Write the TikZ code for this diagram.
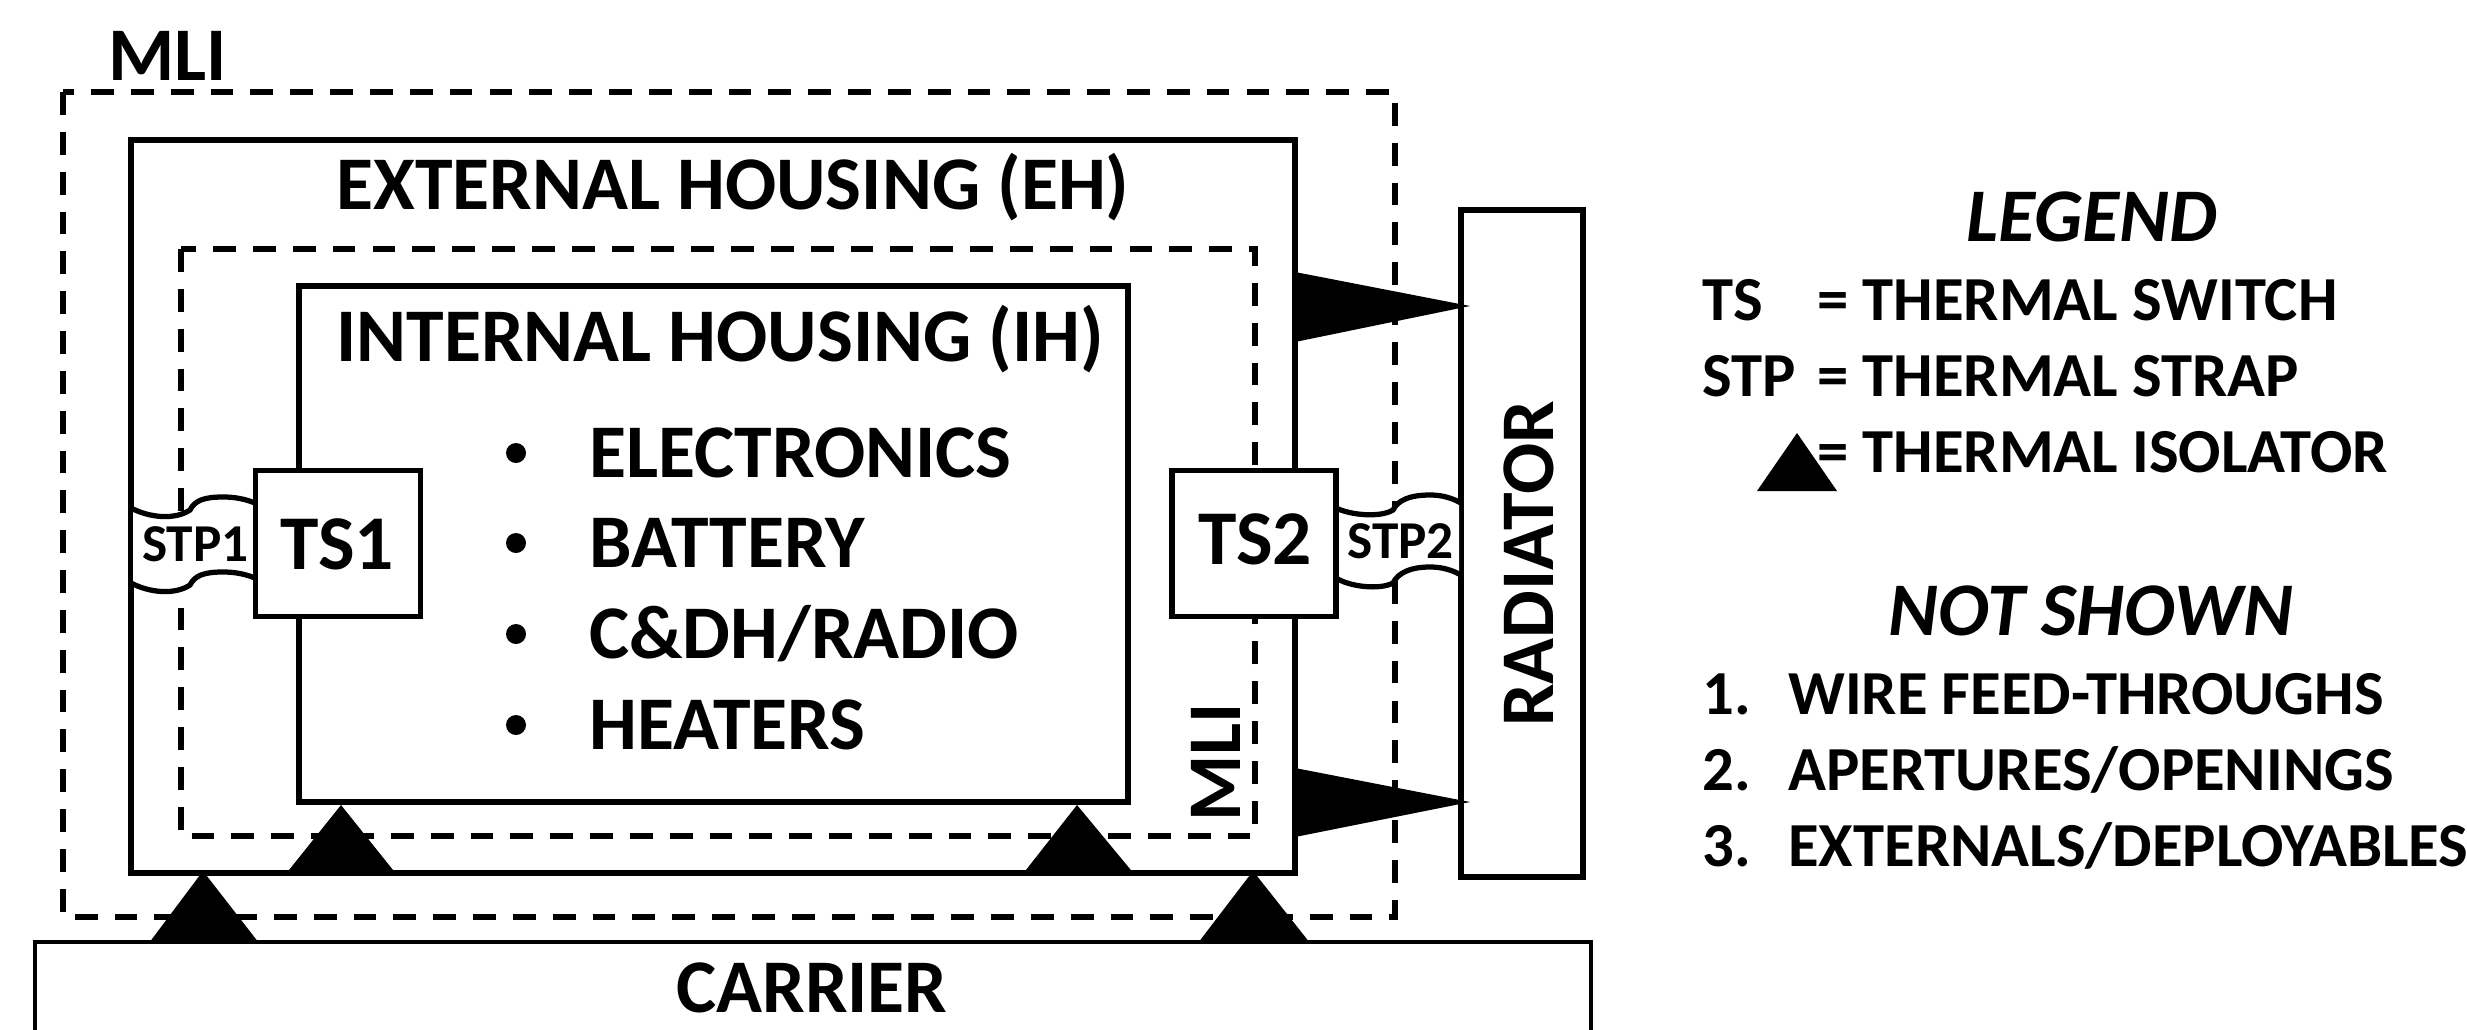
\documentclass[tikz,border=0pt]{standalone}
\usepackage{fontspec}
\setmainfont{Carlito}
\tikzset{x=0.0254cm,y=-0.0254cm,
 box/.style={draw=black,line width=4pt,fill=white,inner sep=0pt},
 dbox/.style={draw=black,line width=4pt,dash pattern=on 16.5pt off 12.3pt},
 strap/.style={draw=black,line width=3.8pt},
 lab/.style={font=\bfseries,inner sep=0pt,anchor=base west},
 big/.style={lab,font=\fontsize{54.8}{60}\selectfont\bfseries},
 small/.style={lab,font=\fontsize{45.3}{50}\selectfont\bfseries},
 stp/.style={lab,font=\fontsize{38.5}{40}\selectfont\bfseries},
 ital/.style={lab,font=\fontsize{54.8}{60}\selectfont\bfseries\itshape},
 iso/.style={fill=black,draw=none}}
\begin{document}
\begin{tikzpicture}
\useasboundingbox (0,0) rectangle (2467,1029);
\fill[white] (0,0) rectangle (2467,1029);
\draw[dbox] (63,92) rectangle (1395,917);
\draw[box,fill=none] (131,140) rectangle (1295,873);
\draw[dbox] (181,249) rectangle (1255,836);
\draw[box] (299,286) rectangle (1128,802);
\draw[box] (1461,210) rectangle (1583,877);
\draw[box,line width=3pt] (35,942) rectangle (1591,1040);
\fill[iso] (1295,272)--(1470,306)--(1295,342)--cycle;
\fill[iso] (1295,768)--(1470,802)--(1295,837)--cycle;
\fill[iso] (285,875)--(341,805)--(397,875)--cycle;
\fill[iso] (1022,875)--(1077,805)--(1135,875)--cycle;
\fill[iso] (149,943)--(203,871)--(259,943)--cycle;
\fill[iso] (1198,943)--(1253,871)--(1310,943)--cycle;
% strap 1
\fill[white] (133,508) .. controls (150,518) and (175,520) .. (190,510) .. controls (195,500) and (205,497) .. (223,497) .. controls (235,497) and (245,499) .. (255,503) -- (255,578) .. controls (245,574) and (235,572) .. (223,572) .. controls (205,572) and (195,575) .. (190,585) .. controls (175,595) and (150,593) .. (133,583) -- cycle;
\draw[strap] (131,508) .. controls (150,518) and (175,520) .. (190,510) .. controls (195,500) and (205,497) .. (223,497) .. controls (235,497) and (245,499) .. (255,503);
\draw[strap] (131,583) .. controls (150,593) and (175,595) .. (190,585) .. controls (195,575) and (205,572) .. (223,572) .. controls (235,572) and (245,574) .. (255,578);
% strap 2
\fill[white] (1336,508) .. controls (1350,515) and (1380,518) .. (1393,510) .. controls (1398,500) and (1410,495) .. (1430,495) .. controls (1442,495) and (1452,498) .. (1459,503) -- (1459,575) .. controls (1452,570) and (1442,567) .. (1430,567) .. controls (1410,567) and (1398,573) .. (1393,583) .. controls (1380,590) and (1350,587) .. (1336,578) -- cycle;
\draw[strap] (1336,508) .. controls (1350,515) and (1380,518) .. (1393,510) .. controls (1398,500) and (1410,495) .. (1430,495) .. controls (1442,495) and (1452,498) .. (1461,503);
\draw[strap] (1336,578) .. controls (1350,587) and (1380,590) .. (1393,583) .. controls (1398,573) and (1410,567) .. (1430,567) .. controls (1442,567) and (1452,570) .. (1461,575);
\draw[box] (255.5,470.5) rectangle (420.5,616.5);
\draw[box] (1172,470.5) rectangle (1336,616.5);
\node[big,font=\fontsize{56}{60}\selectfont\bfseries] (ts1) at (280,569) {TS1};
\node[big,font=\fontsize{56}{60}\selectfont\bfseries] (ts2) at (1198,564) {TS2};
\node[stp] (stp1) at (142,561) {STP1};
\node[stp] (stp2) at (1347,558) {STP2};
\node[big] (mli1) at (108,80) {MLI};
\node[big] (eh) at (336,209) {EXTERNAL HOUSING (EH)};
\node[big] (ih) at (336,361) {INTERNAL HOUSING (IH)};
\node[big] (e1) at (589,477) {ELECTRONICS};
\node[big] (e2) at (589,567) {BATTERY};
\node[big] (e3) at (589,658) {C\&DH/RADIO};
\node[big] (e4) at (589,749) {HEATERS};
\foreach \yy in {453,543,634,725}{\fill[black] (516,\yy) circle (10);}
\node[big] (car) at (676,1012) {CARRIER};
\node[big,rotate=90] (rad) at (1553,727) {RADIATOR};
\node[big,rotate=90] (mli2) at (1240,822) {MLI};
\node[ital] (leg) at (1966,241) {LEGEND};
\node[ital] (ns) at (1888,635) {NOT SHOWN};
\node[small] at (1702,320) {TS};
\node[small] at (1817,320) {= THERMAL SWITCH};
\node[small] at (1702,396) {STP};
\node[small] at (1817,396) {= THERMAL STRAP};
\node[small] at (1817,472) {= THERMAL ISOLATOR};
\node[small] at (1702,714) {1.};
\node[small] at (1788,714) {WIRE FEED-THROUGHS};
\node[small] at (1702,790) {2.};
\node[small] at (1788,790) {APERTURES/OPENINGS};
\node[small] at (1702,866) {3.};
\node[small] at (1788,866) {EXTERNALS/DEPLOYABLES};
\fill[iso] (1757,491)--(1797,433)--(1837,491)--cycle;
\end{tikzpicture}
\end{document}
